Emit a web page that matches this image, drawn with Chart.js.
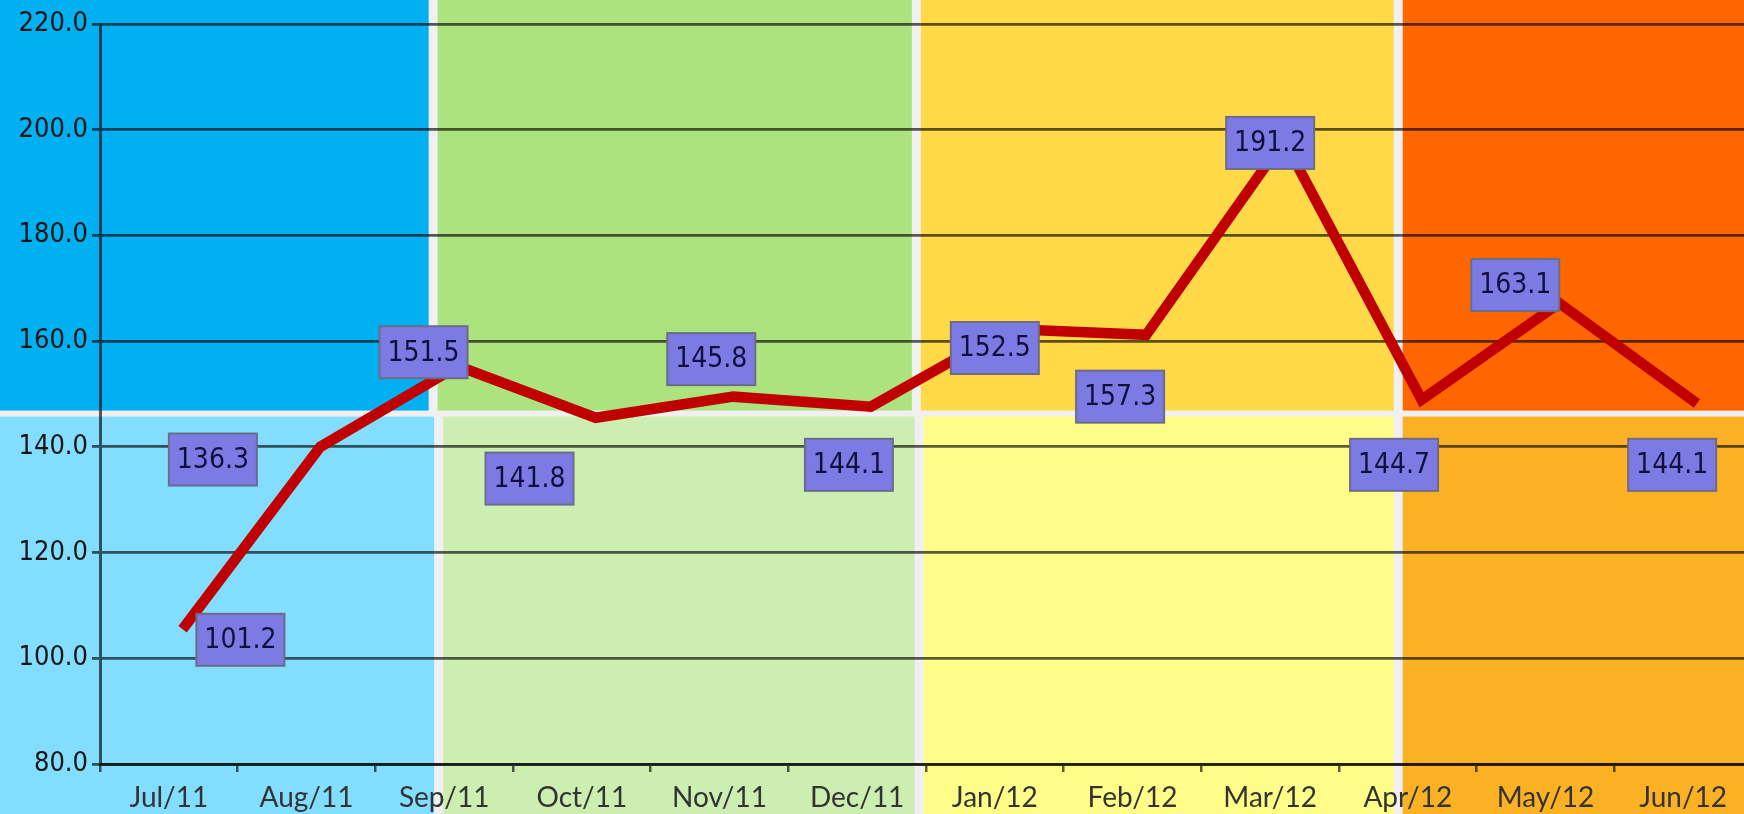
<!DOCTYPE html>
<html>
<head>
<meta charset="utf-8">
<title>Monthly chart</title>
<script src="https://cdn.jsdelivr.net/npm/chart.js@4.4.1/dist/chart.umd.min.js"></script>
<style>
  html, body { margin: 0; padding: 0; background: #f0f0f0; overflow: hidden; }
  #wrap { width: 1760px; height: 814px; }
</style>
</head>
<body>
<div id="wrap"><canvas id="chart1" width="1760" height="814"></canvas></div>
<script>

// data
var months = ['Jul/11', 'Aug/11', 'Sep/11', 'Oct/11', 'Nov/11', 'Dec/11', 'Jan/12', 'Feb/12', 'Mar/12', 'Apr/12', 'May/12', 'Jun/12'];
var values = [105.5, 140.0, 155.3, 145.5, 149.5, 147.6, 162.3, 161.2, 198.0, 148.9, 167.2, 148.2];
var labelValues = [101.2, 136.3, 151.5, 141.8, 145.8, 144.1, 152.5, 157.3, 191.2, 144.7, 163.1, 144.1];
var yTicks = [80, 100, 120, 140, 160, 180, 200, 220];

// where each value box sits: shift in categories, height in axis units
var labelShift = [0.52, -0.68, -0.15, -0.38, -0.06, -0.06, 0.0, -0.09, 0.0, -0.10, -0.22, -0.08];
var labelLevel = [103.5, 137.6, 157.9, 134.0, 156.6, 136.6, 158.7, 149.5, 197.5, 136.6, 170.6, 136.6];

// background quarters (upper row edges, lower row edges)
var quarterEdges = [1.92, 5.43, 8.93];
var lowerEdges = [1.96, 5.45, 8.93];
var bandSplit = 146.3;
var topColors = ['#00b0f0', '#ade37f', '#ffd947', '#ff6600'];
var lowColors = ['#82ddff', '#cdeeb1', '#fffd87', '#fbb124'];

var gridColor = 'rgba(0, 0, 0, 0.64)';

var bands = {
    id: 'bands',
    beforeDraw: function(chart) {
        var c = chart.ctx, xs = chart.scales.x, ys = chart.scales.y;
        var W = chart.width, H = chart.height;
        var ySplit = ys.getPixelForValue(bandSplit);
        function row(edgesIn, colors, y0, y1) {
            var edges = [0];
            edgesIn.forEach(function(q) { edges.push(xs.getPixelForValue(q)); });
            edges.push(W);
            for (var i = 0; i < 4; i++) {
                var l = i === 0 ? 0 : edges[i] + 4.5;
                var r = i === 3 ? W : edges[i + 1] - 4.5;
                c.fillStyle = colors[i];
                c.fillRect(l, y0, r - l, y1 - y0);
            }
        }
        c.save();
        c.fillStyle = '#f0f0f0';
        c.fillRect(0, 0, W, H);
        row(quarterEdges, topColors, 0, ySplit - 3);
        row(lowerEdges, lowColors, ySplit + 3, H);
        c.restore();
    }
};

var boxLabels = {
    id: 'boxLabels',
    afterDatasetsDraw: function(chart) {
        var c = chart.ctx, xs = chart.scales.x, ys = chart.scales.y;
        var w = 88, h = 52;
        c.save();
        c.font = '28px "DejaVu Sans Condensed", "DejaVu Sans", sans-serif';
        c.textAlign = 'center';
        c.textBaseline = 'middle';
        labelValues.forEach(function(v, i) {
            var cx = xs.getPixelForValue(i + labelShift[i]);
            var cy = ys.getPixelForValue(labelLevel[i]);
            c.fillStyle = '#7c7be4';
            c.fillRect(cx - w / 2, cy - h / 2, w, h);
            c.strokeStyle = '#6c6b88';
            c.lineWidth = 2;
            c.strokeRect(cx - w / 2, cy - h / 2, w, h);
            c.fillStyle = '#10103f';
            c.fillText(v.toFixed(1), cx, cy + 1);
        });
        c.restore();
    }
};

// chart1
var ctx = document.getElementById('chart1').getContext('2d');

var myChart = new Chart(ctx, {
    type: 'line',
    data: {
        labels: months,
        datasets: [{
            data: values.map(function(v, i) { return { x: i, y: v }; }),
            xAxisID: 'x2',
            yAxisID: 'y',
            borderColor: '#c00000',
            borderWidth: 10.5,
            borderJoinStyle: 'miter',
            borderCapStyle: 'butt',
            pointRadius: 0,
            pointHoverRadius: 0,
            tension: 0,
            fill: false
        }]
    },
    plugins: [bands, boxLabels],
    options: {
        responsive: false,
        animation: false,
        events: [],
        layout: { padding: { top: 24, right: 8, left: 0, bottom: 0 } },
        plugins: {
            legend: { display: false },
            tooltip: { enabled: false }
        },
        scales: {
            x: {
                type: 'category',
                offset: true,
                grid: {
                    offset: true,
                    drawOnChartArea: false,
                    drawTicks: true,
                    tickLength: 8,
                    color: gridColor,
                    lineWidth: 2.5
                },
                border: { display: true, color: gridColor, width: 3 },
                ticks: {
                    autoSkip: false,
                    maxRotation: 0,
                    padding: 9,
                    color: '#333333',
                    font: { family: 'Lato, "Open Sans", sans-serif', size: 28 }
                },
                afterFit: function(s) { s.height = 50; }
            },
            x2: {
                type: 'linear',
                display: false,
                min: -0.6,
                max: 11.4
            },
            y: {
                min: yTicks[0],
                max: yTicks[yTicks.length - 1],
                afterBuildTicks: function(s) {
                    s.ticks = yTicks.map(function(v) { return { value: v }; });
                },
                grid: {
                    color: gridColor,
                    lineWidth: 2.8,
                    tickLength: 8
                },
                border: { display: true, color: gridColor, width: 3 },
                ticks: {
                    padding: 4,
                    color: '#151515',
                    font: { family: '"DejaVu Sans Condensed", "DejaVu Sans", sans-serif', size: 27 },
                    callback: function(v) { return Number(v).toFixed(1); }
                },
                afterFit: function(s) { s.width = 100; }
            }
        }
    }
});

</script>
</body>
</html>
